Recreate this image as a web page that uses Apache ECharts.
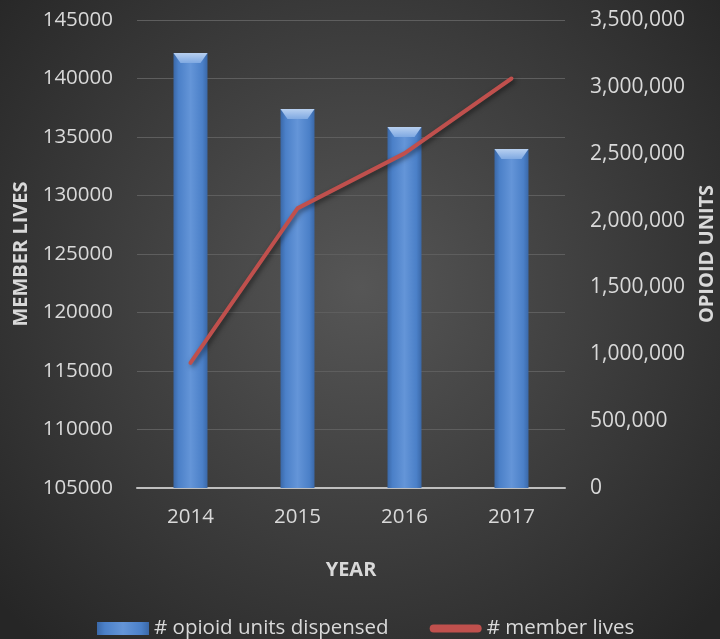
<!DOCTYPE html>
<html><head><meta charset="utf-8">
<script src="https://cdn.jsdelivr.net/npm/echarts@6/dist/echarts.min.js"></script>
<style>html,body{margin:0;padding:0;background:#333;}#c{width:720px;height:639px;}</style>
</head><body><div id="c"></div>
<script>
const years = ['2014', '2015', '2016', '2017'];
const opioidUnits = [3253000, 2834000, 2700000, 2535000];
const memberLives = [115700, 128900, 133600, 140000];
const leftTicks = {min: 105000, max: 145000, interval: 5000};
const rightTicks = {min: 0, max: 3500000, interval: 500000};

const FONT = '"Open Sans", sans-serif';
const txt = '#d9d9d9';
const chart = echarts.init(document.getElementById('c'));
chart.setOption({
  backgroundColor: {
    type: 'radial', x: 0.5, y: 0.45, r: 0.75,
    colorStops: [{offset: 0, color: '#565656'}, {offset: 1, color: '#262626'}]
  },
  textStyle: {fontFamily: FONT},
  grid: {left: 137, right: 155, top: 20, bottom: 151, outerBoundsMode: 'none', containLabel: false},
  legend: {
    top: 618, left: 97, padding: 0, itemGap: 41, itemWidth: 52, itemHeight: 13,
    textStyle: {color: txt, fontSize: 20.5, fontFamily: FONT},
    data: [
      {name: '# opioid units dispensed', icon: 'rect'},
      {name: '# member lives', icon: 'path://M4,0 H48 A4,4 0 0 1 48,8 H4 A4,4 0 0 1 4,0 Z',
       itemStyle: {color: '#c0504d'}}
    ]
  },
  xAxis: {
    type: 'category', data: years,
    name: 'YEAR', nameLocation: 'middle', nameGap: 72,
    nameTextStyle: {color: txt, fontSize: 20, fontWeight: 'bold', fontFamily: FONT},
    axisLine: {lineStyle: {color: '#bfbfbf', width: 2}},
    axisTick: {show: false},
    axisLabel: {color: txt, fontSize: 20.5, margin: 19, fontFamily: FONT}
  },
  yAxis: [
    {
      type: 'value', min: leftTicks.min, max: leftTicks.max, interval: leftTicks.interval,
      name: 'MEMBER LIVES', nameLocation: 'middle', nameGap: 106, nameRotate: 90,
      nameTextStyle: {color: txt, fontSize: 20, fontWeight: 'bold', fontFamily: FONT},
      axisLine: {show: false}, axisTick: {show: false},
      axisLabel: {color: txt, fontSize: 20.5, margin: 24, fontFamily: FONT,
        formatter: v => String(v)},
      splitLine: {lineStyle: {color: '#5e5e5e', width: 1}}
    },
    {
      type: 'value', min: rightTicks.min, max: rightTicks.max, interval: rightTicks.interval,
      name: 'OPIOID UNITS', nameLocation: 'middle', nameGap: 132, nameRotate: 90,
      nameTextStyle: {color: txt, fontSize: 20, fontWeight: 'bold', fontFamily: FONT},
      axisLine: {show: false}, axisTick: {show: false},
      axisLabel: {color: txt, fontSize: 21, margin: 25, fontFamily: FONT,
        formatter: v => v.toLocaleString('en-US')},
      splitLine: {show: false}
    }
  ],
  series: [
    {
      name: '# opioid units dispensed', type: 'bar', yAxisIndex: 1, data: opioidUnits,
      barWidth: 34, z: 2,
      itemStyle: {
        color: {type: 'linear', x: 0, y: 0, x2: 1, y2: 0, colorStops: [
          {offset: 0, color: '#3a68a8'}, {offset: 0.15, color: '#4b80c8'},
          {offset: 0.5, color: '#6495d8'}, {offset: 0.85, color: '#4b80c8'}, {offset: 1, color: '#3a68a8'}]},
        shadowColor: 'rgba(0,0,0,0.5)', shadowBlur: 6, shadowOffsetX: 2, shadowOffsetY: 2
      }
    },
    {
      name: 'bevel', type: 'pictorialBar', yAxisIndex: 1, data: opioidUnits,
      symbol: 'path://M0,0 L34,0 L27,10 L7,10 Z', symbolSize: [34, 10],
      symbolPosition: 'end', symbolOffset: [0, 0], z: 3, silent: true,
      itemStyle: {color: {type: 'linear', x: 0, y: 0, x2: 0, y2: 1, colorStops: [
        {offset: 0, color: '#b8d0f0'}, {offset: 1, color: '#7fa9e2'}]}}
    },
    {
      name: '# member lives', type: 'line', yAxisIndex: 0, data: memberLives, z: 4,
      symbol: 'none', lineStyle: {color: '#c0504d', width: 4, cap: 'round', join: 'round',
        shadowColor: 'rgba(0,0,0,0.5)', shadowBlur: 5, shadowOffsetX: 2, shadowOffsetY: 2},
      itemStyle: {color: '#c0504d'}
    }
  ]
});
</script></body></html>
